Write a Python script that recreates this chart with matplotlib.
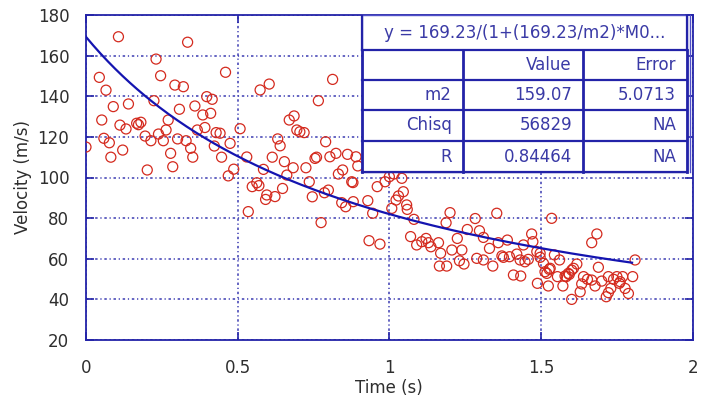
import numpy as np
import matplotlib
matplotlib.use("Agg")
import matplotlib.pyplot as plt
from matplotlib.patches import Rectangle

# ---------------- data ----------------
time_s = [0.0, 0.107, 0.044, 0.066, 0.09, 0.052, 0.14, 0.112, 0.132, 0.059, 0.077, 0.082, 0.121,
          0.167, 0.181, 0.173, 0.195, 0.214, 0.202, 0.231, 0.246, 0.224, 0.239, 0.264, 0.255,
          0.271, 0.279, 0.286, 0.293, 0.321, 0.308, 0.302, 0.33, 0.335, 0.345, 0.352, 0.359,
          0.367, 0.385, 0.398, 0.416, 0.411, 0.392, 0.429, 0.442, 0.423, 0.447, 0.46, 0.475,
          0.469, 0.487,
          0.508, 0.53, 0.574, 0.604, 0.813, 0.766, 0.67, 0.686, 0.695, 0.719, 0.705, 0.632, 0.64,
          0.79, 0.614, 0.654, 0.683, 0.662, 0.725, 0.755, 0.76, 0.804, 0.824, 0.862, 0.846,
          0.832, 0.89, 0.896, 0.585, 0.563, 0.548, 0.57, 0.648, 0.596, 0.592, 0.623, 0.736,
          0.746, 0.786, 0.799, 0.876, 0.88, 0.843, 0.856, 0.535, 0.775, 0.929, 0.945, 0.933,
          0.881,
          0.96, 0.986, 1.0, 1.015, 1.041, 1.046, 1.03, 1.022, 1.057, 1.059, 1.008, 0.969, 1.081,
          1.07, 1.09, 1.107, 1.121, 1.129, 1.137, 1.162, 1.169, 1.165, 1.189, 1.187, 1.2, 1.206,
          1.224, 1.239, 1.231, 1.246, 1.257, 1.283, 1.297, 1.31, 1.288, 1.31, 1.33, 1.341,
          1.354, 1.359, 1.376, 1.389,
          1.371, 1.396, 1.42, 1.431, 1.458, 1.442, 1.469, 1.473, 1.486, 1.497, 1.409, 1.433,
          1.535, 1.508, 1.513, 1.53, 1.544, 1.561, 1.488, 1.524, 1.554, 1.572, 1.583, 1.593,
          1.607, 1.618, 1.601, 1.634, 1.629, 1.64, 1.653, 1.667, 1.684, 1.689, 1.678, 1.7,
          1.715, 1.722, 1.73, 1.739, 1.75, 1.761, 1.769, 1.777, 1.788, 1.802, 1.81, 1.758,
          1.722, 1.667, 1.447, 1.497, 1.601, 1.59, 1.579, 1.527, 1.519]

velocity = [115, 169.3, 149.3, 143, 134.9, 128.3, 136.2, 125.8, 123.9, 119.3, 117.1, 110, 113.5,
            126.7, 127.2, 126, 120.4, 118.1, 103.7, 158.3, 150.1, 137.8, 121.4, 123.4, 118.1,
            128.3, 111.9, 105.3, 145.5, 144.7, 133.6, 119, 118.1, 166.6, 114.4, 110, 135.2,
            123.4, 130.8, 139.8, 138.5, 131.6, 124.6, 122.1, 121.8, 115.5, 110, 151.8, 116.8,
            100.8, 104.1,
            124, 110.1, 143.1, 146, 148.3, 137.8, 128.3, 130.3, 123.4, 122.1, 122.5, 119, 115.6,
            117.6, 110, 107.8, 104.8, 101.2, 104.8, 109.4, 110, 110.2, 111.9, 111.4, 103.7,
            101.7, 110.2, 105.7, 104, 97.4, 95.5, 96, 94.6, 91.4, 89.2, 90.6, 97.9,
            90.5, 92.5, 93.8, 97.9, 97.5, 87.6, 85.6, 83.2, 77.8, 88.6, 82.4, 68.9,
            88.1,
            95.5, 97.9, 100.4, 101.7, 99.6, 93, 90.9, 88.9, 86.5, 84.3, 84.8, 67.2, 79.4,
            70.9, 66.8, 68.4, 70, 67.9, 65.9, 67.9, 62.7, 56.4, 56.4, 77.7, 82.7, 64.3,
            70, 64.3, 59, 57.4, 74.4, 79.8, 73.8, 70.5, 60.2, 59.4, 65.1, 56.4,
            82.4, 67.9, 60.7, 69.2,
            61.4, 61, 62.3, 59.4, 59.7, 66.8, 72.2, 68.4, 63.5, 62.7, 52, 51.5,
            79.9, 57.7, 53.6, 55.3, 61.9, 59.4, 47.9, 46.6, 51.2, 46.6, 51.2, 52.3,
            55.3, 57.4, 40, 47.6, 43.7, 51.2, 49.9, 67.9, 72.2, 55.8, 46.6, 49,
            41.3, 51.2, 45.4, 49.9, 51.2, 48.7, 51.2, 45.4, 42.9, 51.2, 59.4, 47.9,
            43.3, 49.5, 58.5, 60.7, 54.4, 52.8, 51.5, 54.8, 52.8]

v0 = 169.23
m2 = 159.07
t_end = 1.8

x_ticks = [0, 0.5, 1, 1.5, 2]
x_tick_labels = ["0", "0.5", "1", "1.5", "2"]
y_ticks = [20, 40, 60, 80, 100, 120, 140, 160, 180]

table_title = "y = 169.23/(1+(169.23/m2)*M0..."
table_header = ["", "Value", "Error"]
table_rows = [["m2", "159.07", "5.0713"],
              ["Chisq", "56829", "NA"],
              ["R", "0.84464", "NA"]]

# ---------------- style ----------------
BLUE = "#2323a8"
GRID = "#3a3ab2"
RED = "#d42a1e"
TXT = "#2e2e2e"
TBL_TXT = "#3a3aa6"

plt.rcParams["font.family"] = ["DejaVu Sans"]

fig = plt.figure(figsize=(7.03, 4.00), dpi=100)
ax = fig.add_axes([0.1223, 0.15, 0.8631, 0.8125])

ax.set_xlim(0, 2)
ax.set_ylim(20, 180)
ax.set_xticks(x_ticks)
ax.set_xticklabels(x_tick_labels)
ax.set_yticks(y_ticks)

ax.grid(True, color=GRID, linewidth=1.1, linestyle=(0, (1.6, 1.8, 0.8, 1.8)), zorder=0)
for s in ax.spines.values():
    s.set_color(BLUE)
    s.set_linewidth(1.3)
ax.tick_params(axis="both", direction="in", length=6, width=1.2, color=BLUE,
               labelcolor=TXT, labelsize=12, top=True, right=True)
ax.tick_params(axis="x", pad=14)
ax.tick_params(axis="y", pad=12)

ax.scatter(time_s, velocity, s=52, facecolors="none", edgecolors=RED, linewidths=0.9, zorder=3)

tt = np.linspace(0, t_end, 300)
ax.plot(tt, v0 / (1 + (v0 / m2) * tt), color="#1414b0", linewidth=1.6, zorder=4)

ax.set_xlabel("Time (s)", fontsize=12, color=TXT, labelpad=1)
ax.set_ylabel("Velocity (m/s)", fontsize=12, color=TXT, labelpad=4)

# ---------------- fit table ----------------
tl, tr = 0.455, 0.9906
row_edges = [1.0, 0.892, 0.80, 0.708, 0.612, 0.517]
col_edges = [tl, 0.621, 0.819, tr]
tb = ax.transAxes
ax.add_patch(Rectangle((tl, row_edges[-1]), tr - tl, row_edges[0] - row_edges[-1],
                       transform=tb, facecolor="white", edgecolor="#5050c8",
                       linewidth=1.0, zorder=10, clip_on=False))
ax.plot([tr + 0.005, tr + 0.005], [row_edges[-1], row_edges[0]], transform=tb,
        color="#5050c8", linewidth=1.0, zorder=11, clip_on=False)
lw_t = 1.6
for yv in row_edges[1:]:
    ax.plot([tl, tr], [yv, yv], transform=tb, color=BLUE, linewidth=lw_t, zorder=11)
for xv in col_edges:
    ax.plot([xv, xv], [row_edges[1], row_edges[-1]], transform=tb, color=BLUE,
            linewidth=lw_t + 0.4, zorder=11)
ax.plot([tl, tl], [row_edges[0], row_edges[1]], transform=tb, color=BLUE, linewidth=lw_t, zorder=11)
ax.plot([tr, tr], [row_edges[0], row_edges[1]], transform=tb, color=BLUE, linewidth=lw_t, zorder=11)

ax.text((tl + tr) / 2, (row_edges[0] + row_edges[1]) / 2, table_title, transform=tb,
        ha="center", va="center", fontsize=12, color=TBL_TXT, zorder=12)
pad = 0.018
all_rows = [table_header] + table_rows
for r, row in enumerate(all_rows):
    yc = (row_edges[r + 1] + row_edges[r + 2]) / 2
    for c, txt in enumerate(row):
        if txt:
            ax.text(col_edges[c + 1] - pad, yc, txt, transform=tb, ha="right", va="center",
                    fontsize=12, color=TBL_TXT, zorder=12)

fig.savefig("out.png", dpi=100)
